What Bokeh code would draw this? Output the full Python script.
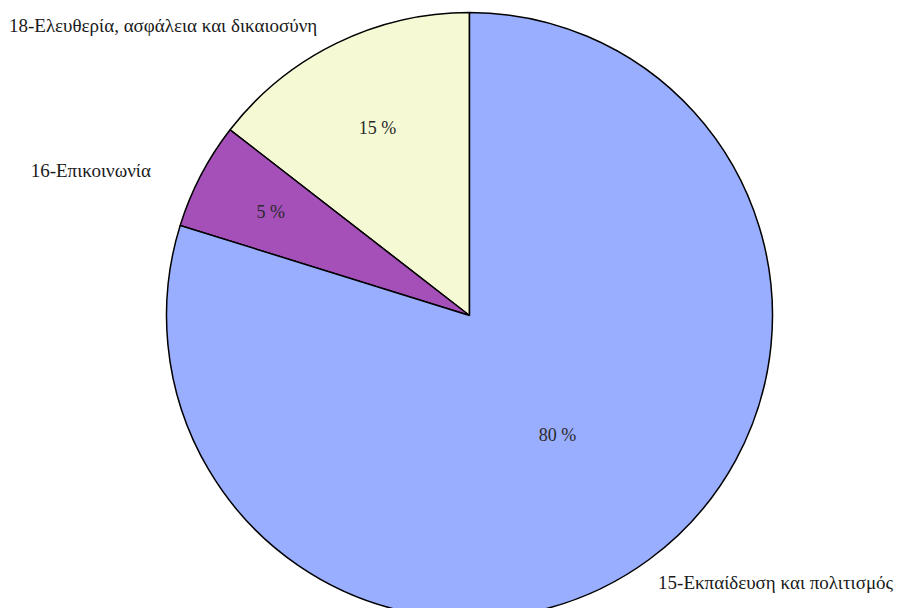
import numpy as np
from bokeh.plotting import figure
from bokeh.models import Range1d, ColumnDataSource
from bokeh.core.properties import value
from bokeh.embed import file_html
from bokeh.resources import INLINE

# Data (counter-clockwise from 12 o'clock)
categories = ["18-Ελευθερία, ασφάλεια και δικαιοσύνη", "16-Επικοινωνία", "15-Εκπαίδευση και πολιτισμός"]
shares = [14.5, 5.7, 79.8]
pct_labels = ["15 %", "5 %", "80 %"]

# Styles
colors = ["#F5FAD4", "#A54FB8", "#9AAEFF"]
pct_radius = [0.69, 0.74, 0.49]
cat_xoff = [-19, -50, 244]
cat_yoff = [-18, -5, 23]
cat_align = ["right", "right", "right"]

W, H = 895, 608
cx, cy, R = 469, H - 315, 303

p = figure(width=W, height=H, output_backend="svg", toolbar_location=None,
           x_range=Range1d(0, W), y_range=Range1d(0, H), min_border=0)
p.axis.visible = False
p.grid.visible = False
p.outline_line_color = None
p.background_fill_color = "white"

frac = np.array(shares) / sum(shares)
ends = np.pi / 2 + np.cumsum(frac) * 2 * np.pi
starts = ends - frac * 2 * np.pi
mids = (starts + ends) / 2

src = ColumnDataSource(dict(start=starts, end=ends, color=colors))
p.wedge(x=cx, y=cy, radius=R, start_angle="start", end_angle="end", fill_color="color",
        line_color="black", line_width=1.5, source=src)

font = value("Liberation Serif")
px = cx + R * np.array(pct_radius) * np.cos(mids)
py = cy + R * np.array(pct_radius) * np.sin(mids)
p.text(x=px, y=py, text=pct_labels, text_font=font, text_font_size="18px",
       text_align="center", text_baseline="middle", text_color="#2a2a2a")

for i, c in enumerate(categories):
    lx = cx + R * np.cos(mids[i])
    ly = cy + R * np.sin(mids[i])
    p.text(x=[lx], y=[ly], text=[c], text_font=font, text_font_size="19px",
           x_offset=cat_xoff[i], y_offset=cat_yoff[i],
           text_align=cat_align[i], text_baseline="middle", text_color="#1a1a1a")

open("out.html", "w").write(file_html(p, INLINE))
